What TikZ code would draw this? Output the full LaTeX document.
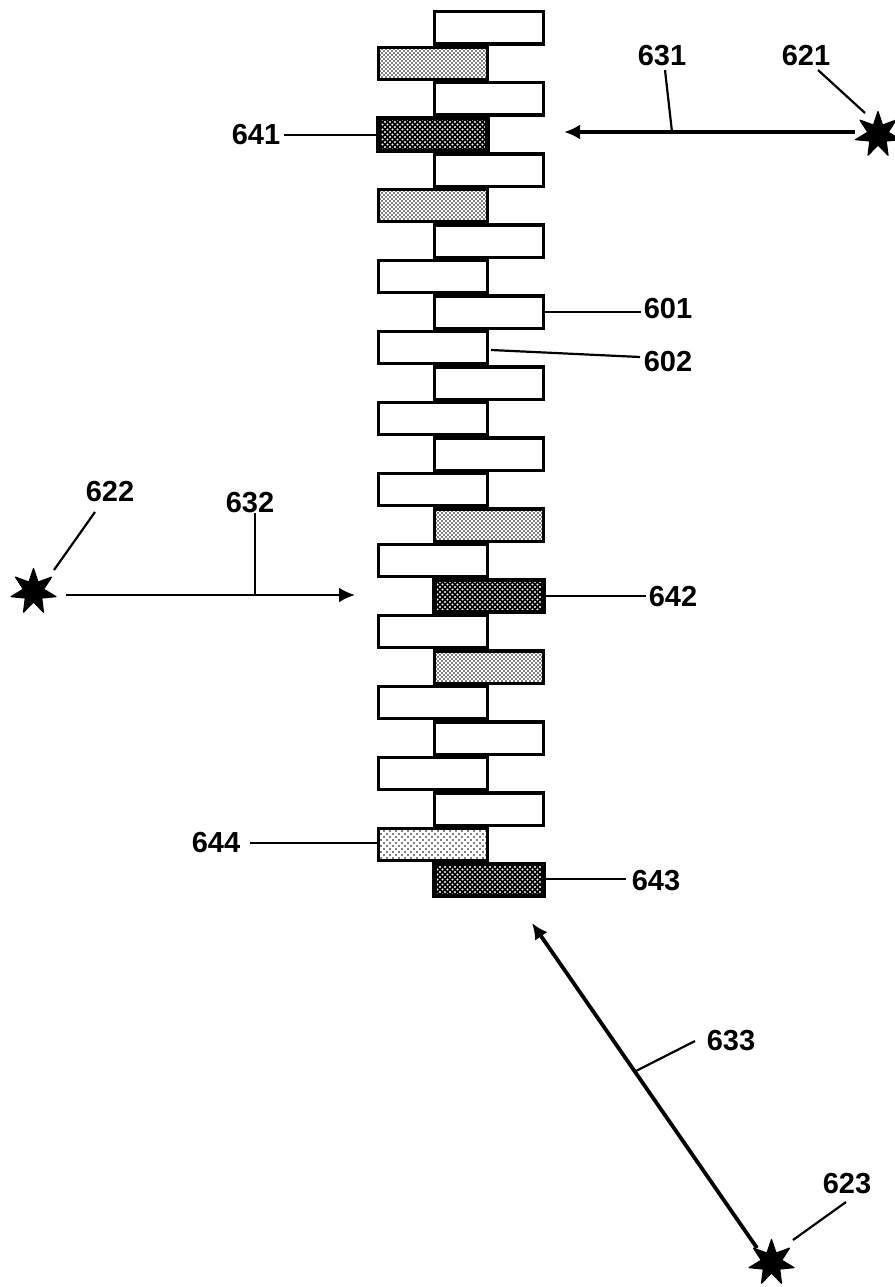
\documentclass[tikz,border=0pt]{standalone}
\usepackage{fontspec}
\setmainfont{Liberation Sans}
\usepackage{tikz}
\usetikzlibrary{arrows.meta}
\usetikzlibrary{patterns}
\usetikzlibrary{shapes.geometric}

\pgfdeclarepatternformonly{stipple}{\pgfqpoint{-1pt}{-1pt}}{\pgfqpoint{3pt}{3pt}}{\pgfqpoint{4pt}{4pt}}{
	\pgfpathcircle{\pgfqpoint{0pt}{0pt}}{0.95pt}
	\pgfpathcircle{\pgfqpoint{2pt}{2pt}}{0.95pt}
	\pgfusepath{fill}
}
\pgfdeclarepatternformonly{sparse}{\pgfqpoint{-1pt}{-1pt}}{\pgfqpoint{5pt}{5pt}}{\pgfqpoint{6pt}{6pt}}{
	\pgfpathcircle{\pgfqpoint{0pt}{0pt}}{0.85pt}
	\pgfpathcircle{\pgfqpoint{3pt}{3pt}}{0.85pt}
	\pgfusepath{fill}
}
\pgfdeclarepatternformonly{weave}{\pgfqpoint{-1.5pt}{-1.5pt}}{\pgfqpoint{3.5pt}{3.5pt}}{\pgfqpoint{5pt}{5pt}}{
	\pgfpathcircle{\pgfqpoint{0pt}{0pt}}{1.05pt}
	\pgfpathcircle{\pgfqpoint{2.5pt}{2.5pt}}{1.05pt}
	\pgfusepath{fill}
}

\tikzset{
	brick/.style={draw, line width=3.4pt, fill=white, minimum width=109pt, minimum height=32.4pt, inner sep=0pt, node distance=35.5pt},
	brickl/.style={brick, pattern=stipple, pattern color=black},
	brickd/.style={brick, line width=4.2pt, preaction={fill=black}, pattern=weave, pattern color=white},
	brickv/.style={brick, pattern=sparse, pattern color=black},
	source/.style={star, star points=7, star point ratio=2.2, fill=black, draw, line width=1.2pt, line join=round, minimum size=46pt, inner sep=0pt},
	num/.style={font=\bfseries\fontsize{29}{31}\selectfont, inner sep=3pt},
	lead/.style={line width=2.2pt},
	ray/.style={-{Latex[length=16pt,width=15pt]}, line width=3.2pt}
}

\begin{document}
\begin{tikzpicture}[x=1pt,y=-1pt]
	\useasboundingbox (0,0) rectangle (894,1287);
	% bricks
	\node[brick] (b0) at (489,28) {};
	\node[brickl] (b1) [below of=b0, xshift=-56pt] {};
	\node[brick] (b2) [below of=b1, xshift=56pt] {};
	\node[brickd] (b3) [below of=b2, xshift=-56pt] {};
	\node[brick] (b4) [below of=b3, xshift=56pt] {};
	\node[brickl] (b5) [below of=b4, xshift=-56pt] {};
	\node[brick] (b6) [below of=b5, xshift=56pt] {};
	\node[brick] (b7) [below of=b6, xshift=-56pt] {};
	\node[brick] (b8) [below of=b7, xshift=56pt] {};
	\node[brick] (b9) [below of=b8, xshift=-56pt] {};
	\node[brick] (b10) [below of=b9, xshift=56pt] {};
	\node[brick] (b11) [below of=b10, xshift=-56pt] {};
	\node[brick] (b12) [below of=b11, xshift=56pt] {};
	\node[brick] (b13) [below of=b12, xshift=-56pt] {};
	\node[brickl] (b14) [below of=b13, xshift=56pt] {};
	\node[brick] (b15) [below of=b14, xshift=-56pt] {};
	\node[brickd] (b16) [below of=b15, xshift=56pt] {};
	\node[brick] (b17) [below of=b16, xshift=-56pt] {};
	\node[brickl] (b18) [below of=b17, xshift=56pt] {};
	\node[brick] (b19) [below of=b18, xshift=-56pt] {};
	\node[brick] (b20) [below of=b19, xshift=56pt] {};
	\node[brick] (b21) [below of=b20, xshift=-56pt] {};
	\node[brick] (b22) [below of=b21, xshift=56pt] {};
	\node[brickv] (b23) [below of=b22, xshift=-56pt] {};
	\node[brickd] (b24) [below of=b23, xshift=56pt] {};
	% sources
	\node[source] (s621) at (878,134.5) {};
	\node[source] (s622) at (33.5,591.5) {};
	\node[source] (s623) at (771.5,1262.5) {};
	% labels
	\node[num] (l621) at (806,56) {621};
	\node[num] (l631) at (662,56) {631};
	\node[num] (l641) at (256,135) {641};
	\node[num] (l601) at (668,309) {601};
	\node[num] (l602) at (668,362) {602};
	\node[num] (l622) at (110,492) {622};
	\node[num] (l632) at (250,503) {632};
	\node[num] (l642) at (673,597) {642};
	\node[num] (l644) at (216,843) {644};
	\node[num] (l643) at (656,881) {643};
	\node[num] (l633) at (731,1041) {633};
	\node[num] (l623) at (847,1184) {623};
	% free ends
	\coordinate (t631) at (564,132);
	\coordinate (f631) at (855,132);
	\coordinate (t632) at (355,595);
	\coordinate (f632) at (66,595);
	\coordinate (t633) at (532,923);
	\coordinate (f633) at (757,1248);
	\coordinate (m631) at (672,132);
	\coordinate (m632) at (255,595);
	\coordinate (m633) at (634,1072);
	\coordinate (a621) at (818,70);
	\coordinate (e621) at (865,113);
	\coordinate (a622) at (95,512);
	\coordinate (e622) at (54,570);
	\coordinate (a623) at (846,1202);
	\coordinate (e623) at (793,1240);
	\coordinate (a631) at (665,70);
	\coordinate (a632) at (255,513);
	\coordinate (a633) at (695,1041);
	\coordinate (a602) at (640,357);
	\coordinate (e602) at (491,350);
	\coordinate (a644) at (250,843);
	\coordinate (a641) at (284,135);
	\coordinate (a643) at (626,879);
	% rays
	\draw[ray] (f631) -- (t631);
	\draw[ray, line width=2.7pt] (f632) -- (t632);
	\draw[ray, line width=3.8pt] (f633) -- (t633);
	% leaders
	\draw[lead] (a621) -- (e621);
	\draw[lead] (a622) -- (e622);
	\draw[lead] (a623) -- (e623);
	\draw[lead] (a631) -- (m631);
	\draw[lead] (a632) -- (m632);
	\draw[lead] (a633) -- (m633);
	\draw[lead] (a602) -- (e602);
	\draw[lead] (a641) -- (a641 -| b3.west);
	\draw[lead] (b8.east) -- (b8.east -| l601.west);
	\draw[lead] (b16.east) -- (b16.east -| l642.west);
	\draw[lead] (a644) -- (a644 -| b23.west);
	\draw[lead] (a643) -- (a643 -| b24.east);
\end{tikzpicture}
\end{document}
